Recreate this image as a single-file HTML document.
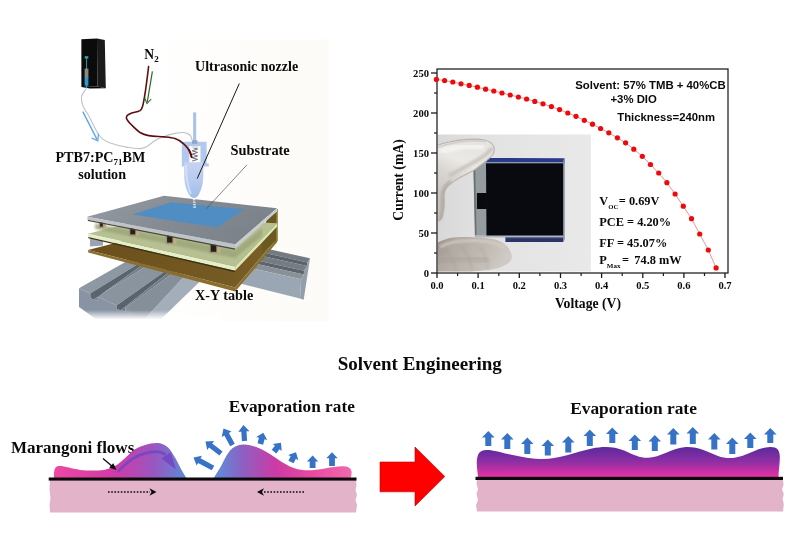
<!DOCTYPE html>
<html><head><meta charset="utf-8"><title>Solvent Engineering</title>
<style>
html,body{margin:0;padding:0;background:#fff;}
body{width:800px;height:533px;overflow:hidden;font-family:"Liberation Serif",serif;}
svg{display:block;position:absolute;left:0;top:0;}
text{font-family:"Liberation Serif",serif;font-weight:bold;fill:#0a0a0a;}
.sans{font-family:"Liberation Sans",sans-serif;font-weight:bold;}
</style></head><body>
<svg width="800" height="533" viewBox="0 0 800 533" style="will-change:transform">
<defs>
<linearGradient id="gL1" x1="0" y1="0" x2="1" y2="0">
 <stop offset="0" stop-color="#ec4aa2"/><stop offset="0.45" stop-color="#d23aa6"/><stop offset="0.75" stop-color="#9a55c0"/><stop offset="1" stop-color="#5a8cd8"/>
</linearGradient>
<linearGradient id="gL2" x1="0" y1="0" x2="1" y2="0">
 <stop offset="0" stop-color="#5a92dc"/><stop offset="0.2" stop-color="#8a62c4"/><stop offset="0.45" stop-color="#cc3aa4"/><stop offset="0.7" stop-color="#e8489f"/><stop offset="1" stop-color="#f06aae"/>
</linearGradient>
<linearGradient id="gR" x1="0" y1="0" x2="0" y2="1">
 <stop offset="0" stop-color="#5a2a9c"/><stop offset="0.45" stop-color="#8a2ea4"/><stop offset="1" stop-color="#e832a4"/>
</linearGradient>
<filter id="b05" x="-10%" y="-10%" width="120%" height="120%"><feGaussianBlur stdDeviation="0.5"/></filter>
<filter id="b1" x="-10%" y="-10%" width="120%" height="120%"><feGaussianBlur stdDeviation="1"/></filter>
<filter id="b2" x="-20%" y="-20%" width="140%" height="140%"><feGaussianBlur stdDeviation="2"/></filter>
<filter id="b4" x="-30%" y="-30%" width="160%" height="160%"><feGaussianBlur stdDeviation="4"/></filter>

<linearGradient id="fadeY" x1="0" y1="0" x2="0" y2="1">
 <stop offset="0" stop-color="#ffffff" stop-opacity="0"/><stop offset="1" stop-color="#ffffff" stop-opacity="1"/>
</linearGradient>
<linearGradient id="plateTop" x1="0" y1="0" x2="1" y2="0.4">
 <stop offset="0" stop-color="#969ca4"/><stop offset="0.5" stop-color="#868c94"/><stop offset="1" stop-color="#7c828a"/>
</linearGradient>
<linearGradient id="cream" x1="0" y1="0" x2="1" y2="0">
 <stop offset="0" stop-color="#ffffff"/><stop offset="0.35" stop-color="#ffffff"/><stop offset="0.8" stop-color="#fefcf9"/><stop offset="1" stop-color="#fdfbf7"/>
</linearGradient>
<linearGradient id="nozz" x1="0" y1="0" x2="0" y2="1">
 <stop offset="0" stop-color="#c6d4f2"/><stop offset="0.6" stop-color="#b4c8ee"/><stop offset="1" stop-color="#9fbce8"/>
</linearGradient>
<linearGradient id="brownTop" x1="0" y1="0" x2="1" y2="0">
 <stop offset="0" stop-color="#6a4f1c"/><stop offset="1" stop-color="#7a5e26"/>
</linearGradient>

<linearGradient id="phbg" x1="0" y1="0" x2="1" y2="0">
 <stop offset="0" stop-color="#d8d8d8"/><stop offset="0.3" stop-color="#e2e2e2"/><stop offset="1" stop-color="#e9e9e9"/>
</linearGradient>
<linearGradient id="glove1" x1="0.45" y1="0" x2="0.2" y2="0.8">
 <stop offset="0" stop-color="#e6e4e0"/><stop offset="0.3" stop-color="#ebe9e5"/><stop offset="0.55" stop-color="#d9d5d0"/><stop offset="1" stop-color="#c6c1bb"/>
</linearGradient>
<linearGradient id="glove2" x1="0" y1="0" x2="1" y2="0.3">
 <stop offset="0" stop-color="#9a928a"/><stop offset="0.3" stop-color="#b2aba3"/><stop offset="0.75" stop-color="#c3bdb6"/><stop offset="1" stop-color="#cfcac4"/>
</linearGradient>
<clipPath id="phclip"><rect x="437.8" y="134.6" width="153" height="136.8"/></clipPath>

</defs>
<rect width="800" height="533" fill="#ffffff"/>
<g id="spray">
<rect x="48" y="39.5" width="280.5" height="282" fill="url(#cream)"/>
<polygon points="185.5,274.9 202.5,279.0 158.0,322.0 140.0,324.0" fill="#a4aeba"/>
<polygon points="130.7,258.9 141.2,261.9 90.2,293.5 79.0,288.2" fill="#8e98a2"/>
<polygon points="149.5,264.1 167.5,269.4 116.5,305.5 97.7,296.5" fill="#8a949e"/>
<polygon points="175.0,271.6 185.5,274.9 140.0,324.0 125.5,307.7" fill="#858f99"/>
<polygon points="79.0,288.2 90.2,293.5 90.7,298.3 97.7,301.0 97.7,296.5 116.5,305.5 116.8,309.0 125.5,311.5 125.5,307.7 152.0,324.0 79.0,324.0" fill="#8894a4"/>
<polygon points="90.2,293.5 141.2,261.9 145.1,263.0 94.0,299.6 90.7,298.3" fill="#5a646e"/>
<polygon points="94.0,299.6 145.1,263.0 149.5,264.1 97.7,296.5 97.7,301.0" fill="#737d87"/>
<polygon points="116.5,305.5 167.5,269.4 171.1,270.5 120.8,310.2 116.8,309.0" fill="#59636d"/>
<polygon points="120.8,310.2 171.1,270.5 175.0,271.6 125.5,307.7 125.5,311.5" fill="#727c86"/>
<rect x="60" y="310" width="160" height="9.5" fill="url(#fadeY)"/>
<rect x="60" y="319" width="160" height="8" fill="#ffffff"/>
<polygon points="77,305.5 95,318.5 77,327" fill="#ffffff" filter="url(#b05)"/>
<polygon points="269.3,249.3 310.0,258.3 307.5,262.4 266.0,253.2" fill="#747a82"/>
<polygon points="266.0,253.2 307.5,262.4 307.0,266.0 263.3,256.3" fill="#5c626a"/>
<polygon points="263.3,256.3 307.0,266.0 304.0,270.8 259.4,260.9" fill="#767c84"/>
<polygon points="259.4,260.9 304.0,270.8 303.9,274.4 256.9,264.0" fill="#5e646c"/>
<polygon points="256.9,264.0 303.9,274.4 301.2,279.2 253.0,268.5" fill="#8a9098"/>
<polygon points="253.0,268.5 301.2,279.2 300.0,298.5 240.0,283.6" fill="#9aa6b4"/>
<polygon points="310.0,258.3 303.7,299.8 300.0,298.5 301.2,279.2 303.9,274.4 304.0,270.8 307.0,266.0 307.5,262.4" fill="#929eac"/>
<polygon points="88.0,250.0 131.0,239.0 277.2,238.4 235.2,287.4" fill="url(#brownTop)"/>
<polygon points="88.0,250.0 235.2,287.4 235.2,291.6 88.3,252.5" fill="#8a6e2e"/>
<polygon points="235.2,287.4 277.2,238.4 277.2,242.0 235.2,291.6" fill="#86722e"/>
<polygon points="269.0,214.5 277.2,211.0 277.2,239.5 262.0,252.0 262.0,232.0" fill="#6a5a20"/>
<polygon points="276.2,209.0 277.8,209.0 277.8,241.0 276.2,241.0" fill="#93843c"/>
<polygon points="90.0,238.0 103.0,241.0 103.0,245.5 90.0,246.5" fill="#9aa4b4"/>
<polygon points="88.0,233.7 150.0,218.0 277.2,223.2 235.2,266.4" fill="#b6c092"/>
<polygon points="88.0,233.7 235.2,266.4 235.0,270.8 88.3,237.1" fill="#e4eec8"/>
<polygon points="235.2,266.4 277.2,223.2 277.2,226.6 235.0,270.8" fill="#dce8b4"/>
<polygon points="88.3,237.1 235.0,270.8 235.0,272.2 88.3,238.3" fill="#3c3214"/>
<polygon points="95.0,223.5 235.0,250.0 262.0,228.0 262.0,236.0 235.0,258.0 95.0,229.0" fill="#9aa478" filter="url(#b1)" opacity="0.8"/>
<rect x="98.8" y="221.6" width="7" height="6.4" fill="#a39373"/>
<rect x="103.6" y="221.6" width="2.2" height="6.4" fill="#bdad8b"/>
<rect x="100.1" y="222.6" width="2.6" height="4.0" fill="#26221a"/>
<rect x="129" y="227.2" width="10.4" height="8.6" fill="#a39373"/>
<rect x="136.1" y="227.2" width="3.3" height="8.6" fill="#bdad8b"/>
<rect x="130.3" y="228.2" width="4.9" height="6.2" fill="#26221a"/>
<rect x="165.8" y="234.6" width="11" height="9.4" fill="#a39373"/>
<rect x="173.3" y="234.6" width="3.5" height="9.4" fill="#bdad8b"/>
<rect x="167.1" y="235.6" width="5.3" height="7.0" fill="#26221a"/>
<rect x="209.4" y="243.6" width="11.4" height="9.6" fill="#a39373"/>
<rect x="217.2" y="243.6" width="3.6" height="9.6" fill="#bdad8b"/>
<rect x="210.7" y="244.6" width="5.6" height="7.2" fill="#26221a"/>
<polygon points="87.2,216.8 164.0,195.7 277.0,208.3 235.2,244.2" fill="url(#plateTop)"/>
<polygon points="87.2,216.8 235.2,244.2 235.0,248.5 87.6,219.8" fill="#bdc3ca"/>
<polygon points="235.2,244.2 277.0,208.3 277.0,211.5 235.0,248.5" fill="#c9cdd2"/>
<polygon points="87.6,219.8 235.0,248.5 235.0,249.8 88.0,221.0" fill="#4a4638"/>
<polygon points="132.5,214.6 171.0,202.2 244.3,209.3 217.3,227.4" fill="#4f8dc3"/>
<polygon points="81.4,39.2 97.0,38.6 97.4,86.6 81.4,86.9" fill="#0b0b0b"/>
<polygon points="97.0,38.6 104.8,40.0 105.8,88.2 97.4,86.6" fill="#1b1b1b"/>
<polygon points="81.4,86.9 97.4,86.6 105.8,88.2 90.0,88.6" fill="#050505"/>
<rect x="84.7" y="56.2" width="3.6" height="2.4" fill="#2ea8b8"/>
<rect x="86" y="58.5" width="1.1" height="10.5" fill="#3a8a98"/>
<rect x="84.6" y="68.6" width="3.8" height="9" fill="#8a8a80"/>
<rect x="84.6" y="77" width="3.8" height="8.6" fill="#2f9ad0"/>
<path d="M86.5,85 L86.5,88" stroke="#2f9ad0" stroke-width="1.4"/>
<rect x="193.1" y="112.4" width="3.1" height="30" fill="#a9c3ea"/>
<path d="M181.8,141.7 L206.6,141.7 L206.6,163.2 L208.8,163.4 L208.8,166.6 L200.5,166.6 L200.5,146 L189.3,146 L189.3,166.4 L181.8,166.4 Z" fill="#b3c8ee"/>
<rect x="192" y="140.2" width="5.4" height="3.6" fill="#8fa6d0"/>
<path d="M192.2,147.5 L197.6,149 L192.2,150.8 L197.6,152.4 L192.2,154.2 L197.6,156 L192.2,157.8 L197.6,159.4 L192.2,161" stroke="#5a5a66" stroke-width="0.9" fill="none"/>
<rect x="191.6" y="146" width="6.6" height="2" fill="#e0e0ea"/>
<path d="M86.6,88 C84.5,91 81.6,94 81.4,97.5 C81.2,100.5 82,103.5 83.1,106.2 C84.8,110 87.2,113.2 89.2,116.7 C91.2,120.2 92.8,123.8 94.5,127.2 C96,130.2 97.6,133.4 99.7,136 C102.4,139.2 106,141.6 110.2,143 C115.6,144.9 122,146.4 127.7,147.4 C131.8,148.1 136,148.9 140,148.6 C142.6,148.4 145,147.7 147,146.5 C149.6,145 151.6,142.8 154,141.2 C156.6,139.4 159.6,138 162.7,136.9 C166.6,135.4 170.8,134.2 175,133.4 C177.8,132.8 181,132.2 183.7,132.5 C186.6,132.9 189.2,134 190.7,136 L192.5,141" stroke="#bcc4cd" stroke-width="1.1" fill="none"/>
<path d="M82.8,111.6 L97,139.4" stroke="#5aa2e6" stroke-width="1.3" fill="none"/>
<path d="M91.6,138 L97.8,140.8 L98.4,133.6" stroke="#5aa2e6" stroke-width="1.2" fill="none"/>
<path d="M148.6,66.5 C147.6,75 146,88 144.4,97.5 C143.8,100.6 143.4,103.6 142.6,106.2 C142,108.2 141.4,109.8 140,110.6 C137.4,112 134,112.2 131.2,113.2 C129.4,113.9 127.6,114.6 126.9,115.9 C126.2,117.2 126.2,118.4 126.9,119.4 C128.4,122 130.8,124.3 133,126.4 C135.2,128.6 137.4,130.8 140,132.5 C142.6,134.1 145.6,135.1 148.7,135.6 C153.8,136.4 159.4,136.4 164.5,136.9 C168,137.2 171.8,137.4 175,138.6 C178.4,139.8 181.4,141.6 183.7,143.9 C185.8,145.8 187.6,147.8 189,150 C190.3,152.2 191,154.6 191.6,157" stroke="#5e0e12" stroke-width="1.6" fill="none" stroke-linecap="round"/>
<path d="M152.4,71.3 L147.3,101.8" stroke="#2c6a24" stroke-width="1.2" fill="none"/>
<path d="M144.6,97.8 L147,103.6 L151.2,99" stroke="#2c6a24" stroke-width="1.1" fill="none"/>
<path d="M189,150 C190.3,152.2 191,154.6 191.6,157" stroke="#5e0e12" stroke-width="1.8" fill="none" stroke-linecap="round"/>
<path d="M184,162.2 L203.6,162.2 L203.3,177 C203,185.5 200.6,192 197.8,196 C196.2,198.6 191.8,198.6 190.2,196 C187.2,192 184.6,185.5 184.3,177 Z" fill="url(#nozz)"/>
<path d="M186,165 C186,176 187.2,186 191,194" stroke="#dfe8fa" stroke-width="2" fill="none" opacity="0.7" filter="url(#b05)"/>
<path d="M194,199 L194.8,208.5" stroke="#dfe9f5" stroke-width="2.6" stroke-dasharray="1.4 1.1" fill="none" opacity="0.9"/>
<path d="M239.3,83.5 L197.2,178.6" stroke="#1a1a1a" stroke-width="1" fill="none"/>
<path d="M247,164.8 L206,209.2" stroke="#555" stroke-width="0.7" fill="none"/>
<text x="144.3" y="59" font-size="13.6">N<tspan font-size="9" dy="3.2">2</tspan></text>
<text x="195.1" y="71" font-size="14">Ultrasonic nozzle</text>
<text x="230.6" y="155.3" font-size="14.4">Substrate</text>
<text x="55.4" y="162" font-size="14.15">PTB7:PC<tspan font-size="9" dy="3.2">71</tspan><tspan dy="-3.2">BM</tspan></text>
<text x="78.2" y="178.8" font-size="14.1">solution</text>
<text x="195" y="300.2" font-size="14.2">X-Y table</text>
</g>
<g id="chart">
<g clip-path="url(#phclip)">
<rect x="437" y="134" width="155" height="138" fill="url(#phbg)"/>
<path d="M436,243.2 C441,241 446,239 451.2,237.8 C458,236.6 465,236.8 472.5,237.2 C480,237.6 487,238 493.7,239.3 C499,240.5 503.5,242.6 506.5,245.7 C509.5,248.6 511.6,252.5 511.8,256.3 C512,259.2 510.3,261.8 507.6,263.7 C503.5,266.3 499,268 493.7,269 C487,270.2 480,271 472.5,271.4 L472,274 L436,274 Z" fill="url(#glove2)" filter="url(#b05)"/>
<path d="M440,247 C450,241.5 462,240 476,240.5 C488,241 498,243 505,248" stroke="#d2cdc7" stroke-width="3" fill="none" opacity="0.8" filter="url(#b1)"/>
<path d="M446,250 C452,256 455,263 456,271 M462,246 C468,254 471,262 472,271 M480,247 C485,254 488,262 488,270" stroke="#9d958d" stroke-width="1.6" fill="none" opacity="0.3" filter="url(#b1)"/>
<path d="M439,262 C452,258 470,257 488,260" stroke="#a8a098" stroke-width="6" fill="none" opacity="0.5" filter="url(#b2)"/>
<polygon points="487,158 564.5,158.3 564.5,163 486,163" fill="#2b3a88"/>
<polygon points="486,162 564.5,162 564.5,163.4 486,163.4" fill="#8f99ad"/>
<polygon points="473.6,168 486,161.5 486.6,236.3 475.2,236.3" fill="#959c9f"/>
<polygon points="473.4,168.5 475.2,167.5 476.6,236.3 474.9,236.3" fill="#687074"/>
<polygon points="475.2,235 564,235 564,237.6 475.2,237.6" fill="#aeb6be"/>
<polygon points="505.4,237.6 563.4,237.6 563.4,241.9 505.4,241.9" fill="#2a3468"/>
<polygon points="505.4,237.2 563.4,237.2 563.4,238.2 505.4,238.2" fill="#5a6690"/>
<polygon points="486,163.2 563.6,163.2 563.6,235.4 486.4,235.4" fill="#090910"/>
<rect x="476.9" y="193" width="10" height="16" fill="#090910"/>
<rect x="563.2" y="159.5" width="1.5" height="81" fill="#8690a2"/>
<path d="M436,145.8 C442,143.5 446,142.5 448.8,142 C455,140.6 461,139.8 467.5,139.4 C474,139 480,139 484.4,140 C489.5,141.2 493,143.5 493.9,147 C494.6,150 494.2,152.5 492.8,154.5 C491,157 488.8,158.8 486.3,160.8 L474,170.2 C468,173.5 463,176 458,178.7 C453.5,181.2 450,183.8 447.8,186.2 C445.5,188.5 444.2,191 444,193.7 C443.7,198 444.6,202.5 444,206.8 C443.5,211 443,215 441.3,218 C440.4,219.8 439.2,221 436,222.5 Z" fill="url(#glove1)" stroke="#b9b3ad" stroke-width="1.1" filter="url(#b05)"/>
<path d="M449,176 C457,171 467,166 476,161 C483,157 489,152.5 492,148" stroke="#c4beb8" stroke-width="4" fill="none" opacity="0.8" filter="url(#b1)"/>
<path d="M440,220 C443,212 442.5,203 442.3,194 C443,188 446,184 451,181" stroke="#a9a29b" stroke-width="2.6" fill="none" opacity="0.8" filter="url(#b1)"/>
<path d="M441,152 C452,147.5 468,145 484,146.5" stroke="#f4f3f0" stroke-width="6" fill="none" opacity="0.9" filter="url(#b1)"/>
<path d="M438,147.5 C450,142.5 470,139.5 486,141.5" stroke="#cfcac5" stroke-width="1.6" fill="none" opacity="0.8" filter="url(#b05)"/>
</g>
<rect x="437" y="69" width="291" height="204" fill="none" stroke="#1c1c1c" stroke-width="1.25"/>
<path d="M431,273.0 L437,273.0" stroke="#1a1a1a" stroke-width="1.3"/>
<path d="M434,253.0 L437,253.0" stroke="#1a1a1a" stroke-width="1.2"/>
<path d="M431,233.0 L437,233.0" stroke="#1a1a1a" stroke-width="1.3"/>
<path d="M434,213.0 L437,213.0" stroke="#1a1a1a" stroke-width="1.2"/>
<path d="M431,193.0 L437,193.0" stroke="#1a1a1a" stroke-width="1.3"/>
<path d="M434,173.0 L437,173.0" stroke="#1a1a1a" stroke-width="1.2"/>
<path d="M431,153.0 L437,153.0" stroke="#1a1a1a" stroke-width="1.3"/>
<path d="M434,133.0 L437,133.0" stroke="#1a1a1a" stroke-width="1.2"/>
<path d="M431,113.0 L437,113.0" stroke="#1a1a1a" stroke-width="1.3"/>
<path d="M434,93.0 L437,93.0" stroke="#1a1a1a" stroke-width="1.2"/>
<path d="M431,73.0 L437,73.0" stroke="#1a1a1a" stroke-width="1.3"/>
<path d="M437.0,273 L437.0,278" stroke="#1a1a1a" stroke-width="1.3"/>
<path d="M457.6,273 L457.6,276" stroke="#1a1a1a" stroke-width="1.2"/>
<path d="M478.1,273 L478.1,278" stroke="#1a1a1a" stroke-width="1.3"/>
<path d="M498.8,273 L498.8,276" stroke="#1a1a1a" stroke-width="1.2"/>
<path d="M519.3,273 L519.3,278" stroke="#1a1a1a" stroke-width="1.3"/>
<path d="M539.9,273 L539.9,276" stroke="#1a1a1a" stroke-width="1.2"/>
<path d="M560.5,273 L560.5,278" stroke="#1a1a1a" stroke-width="1.3"/>
<path d="M581.1,273 L581.1,276" stroke="#1a1a1a" stroke-width="1.2"/>
<path d="M601.6,273 L601.6,278" stroke="#1a1a1a" stroke-width="1.3"/>
<path d="M622.2,273 L622.2,276" stroke="#1a1a1a" stroke-width="1.2"/>
<path d="M642.8,273 L642.8,278" stroke="#1a1a1a" stroke-width="1.3"/>
<path d="M663.4,273 L663.4,276" stroke="#1a1a1a" stroke-width="1.2"/>
<path d="M683.9,273 L683.9,278" stroke="#1a1a1a" stroke-width="1.3"/>
<path d="M704.5,273 L704.5,276" stroke="#1a1a1a" stroke-width="1.2"/>
<path d="M725.0,273 L725.0,278" stroke="#1a1a1a" stroke-width="1.3"/>
<text x="429" y="276.6" font-size="10.6" text-anchor="end">0</text>
<text x="429" y="236.6" font-size="10.6" text-anchor="end">50</text>
<text x="429" y="196.6" font-size="10.6" text-anchor="end">100</text>
<text x="429" y="156.6" font-size="10.6" text-anchor="end">150</text>
<text x="429" y="116.6" font-size="10.6" text-anchor="end">200</text>
<text x="429" y="76.6" font-size="10.6" text-anchor="end">250</text>
<text x="437.0" y="289" font-size="10.6" text-anchor="middle">0.0</text>
<text x="478.1" y="289" font-size="10.6" text-anchor="middle">0.1</text>
<text x="519.3" y="289" font-size="10.6" text-anchor="middle">0.2</text>
<text x="560.5" y="289" font-size="10.6" text-anchor="middle">0.3</text>
<text x="601.6" y="289" font-size="10.6" text-anchor="middle">0.4</text>
<text x="642.8" y="289" font-size="10.6" text-anchor="middle">0.5</text>
<text x="683.9" y="289" font-size="10.6" text-anchor="middle">0.6</text>
<text x="725.0" y="289" font-size="10.6" text-anchor="middle">0.7</text>
<text x="588" y="308" font-size="13.7" text-anchor="middle">Voltage (V)</text>
<text transform="translate(403.3,180) rotate(-90)" font-size="13.7" text-anchor="middle">Current (mA)</text>
<path d="M436.4,79.4 L444.6,80.6 L452.8,82.0 L461.0,83.8 L469.2,85.4 L477.4,87.2 L485.6,89.2 L493.8,91.0 L502.0,93.0 L510.2,95.0 L518.4,97.0 L526.6,99.0 L534.8,101.4 L543.0,103.8 L551.4,106.6 L559.6,109.6 L567.8,113.0 L576.0,116.3 L584.3,120.3 L592.5,124.2 L600.6,128.5 L608.8,132.8 L617.4,137.8 L625.6,142.8 L633.8,149.2 L642.3,156.3 L650.5,164.5 L658.7,173.0 L666.9,182.7 L675.1,194.0 L683.3,206.2 L691.5,218.7 L699.7,234.0 L708.3,250.0 L716.1,267.9" stroke="#e84a4a" stroke-width="0.6" fill="none"/>
<circle cx="436.4" cy="79.4" r="2.6" fill="#ee0a0a"/>
<circle cx="444.6" cy="80.6" r="2.6" fill="#ee0a0a"/>
<circle cx="452.8" cy="82.0" r="2.6" fill="#ee0a0a"/>
<circle cx="461.0" cy="83.8" r="2.6" fill="#ee0a0a"/>
<circle cx="469.2" cy="85.4" r="2.6" fill="#ee0a0a"/>
<circle cx="477.4" cy="87.2" r="2.6" fill="#ee0a0a"/>
<circle cx="485.6" cy="89.2" r="2.6" fill="#ee0a0a"/>
<circle cx="493.8" cy="91.0" r="2.6" fill="#ee0a0a"/>
<circle cx="502.0" cy="93.0" r="2.6" fill="#ee0a0a"/>
<circle cx="510.2" cy="95.0" r="2.6" fill="#ee0a0a"/>
<circle cx="518.4" cy="97.0" r="2.6" fill="#ee0a0a"/>
<circle cx="526.6" cy="99.0" r="2.6" fill="#ee0a0a"/>
<circle cx="534.8" cy="101.4" r="2.6" fill="#ee0a0a"/>
<circle cx="543.0" cy="103.8" r="2.6" fill="#ee0a0a"/>
<circle cx="551.4" cy="106.6" r="2.6" fill="#ee0a0a"/>
<circle cx="559.6" cy="109.6" r="2.6" fill="#ee0a0a"/>
<circle cx="567.8" cy="113.0" r="2.6" fill="#ee0a0a"/>
<circle cx="576.0" cy="116.3" r="2.6" fill="#ee0a0a"/>
<circle cx="584.3" cy="120.3" r="2.6" fill="#ee0a0a"/>
<circle cx="592.5" cy="124.2" r="2.6" fill="#ee0a0a"/>
<circle cx="600.6" cy="128.5" r="2.6" fill="#ee0a0a"/>
<circle cx="608.8" cy="132.8" r="2.6" fill="#ee0a0a"/>
<circle cx="617.4" cy="137.8" r="2.6" fill="#ee0a0a"/>
<circle cx="625.6" cy="142.8" r="2.6" fill="#ee0a0a"/>
<circle cx="633.8" cy="149.2" r="2.6" fill="#ee0a0a"/>
<circle cx="642.3" cy="156.3" r="2.6" fill="#ee0a0a"/>
<circle cx="650.5" cy="164.5" r="2.6" fill="#ee0a0a"/>
<circle cx="658.7" cy="173.0" r="2.6" fill="#ee0a0a"/>
<circle cx="666.9" cy="182.7" r="2.6" fill="#ee0a0a"/>
<circle cx="675.1" cy="194.0" r="2.6" fill="#ee0a0a"/>
<circle cx="683.3" cy="206.2" r="2.6" fill="#ee0a0a"/>
<circle cx="691.5" cy="218.7" r="2.6" fill="#ee0a0a"/>
<circle cx="699.7" cy="234.0" r="2.6" fill="#ee0a0a"/>
<circle cx="708.3" cy="250.0" r="2.6" fill="#ee0a0a"/>
<circle cx="716.1" cy="267.9" r="2.6" fill="#ee0a0a"/>
<text class="sans" x="575.3" y="88.9" font-size="11.35">Solvent: 57% TMB + 40%CB</text>
<text class="sans" x="610.5" y="103.2" font-size="11.35">+3% DIO</text>
<text class="sans" x="617.3" y="121.2" font-size="11.3">Thickness=240nm</text>
<text x="599.3" y="205.1" font-size="12.35">V<tspan font-size="6.7" dy="4">OC</tspan><tspan x="618.8" dy="-4">= 0.69V</tspan></text>
<text x="599.3" y="225.9" font-size="12.35">PCE = 4.20%</text>
<text x="599.3" y="246.7" font-size="12.35">FF = 45.07%</text>
<text x="599.3" y="264.4" font-size="12.35">P<tspan font-size="7" dy="4">Max</tspan><tspan x="622" dy="-4">=</tspan><tspan x="634.3">74.8 mW</tspan></text>
</g>
<g id="bottom">
<text x="419.8" y="369.5" font-size="19" text-anchor="middle">Solvent Engineering</text>
<text x="291.8" y="411.5" font-size="17.25" text-anchor="middle">Evaporation rate</text>
<text x="633.5" y="414.3" font-size="17.35" text-anchor="middle">Evaporation rate</text>
<text x="11" y="453" font-size="17">Marangoni flows</text>
<path d="M50,479 L356,479 L356.5,486 L355.5,490 L357,495 L355.5,500 L357,505 L356,512.5 L50,512.5 L49.5,505 L50.5,498 L49.5,490 Z" fill="#e2b3c9"/>
<path d="M54,478.5 C53.5,472 54.5,467.2 57.5,466.3 C63,465.3 71,468.8 80,469.9 C88,470.6 96,471 103.8,469.9 C109,469 113.5,466.8 117.5,464.4 C122.5,461 127,456 131.3,452 C135.5,448.6 140,446.4 145,445.1 C149,443.8 153.5,442.8 157.4,443 C161,443.2 164,444.4 166.5,446.2 C169,448 171,450.6 172.5,453.4 C175,457.4 177.5,461.6 179.4,465.8 C181.5,470 183.8,474 186.8,478.5 Z" fill="url(#gL1)"/>
<path d="M213.5,478.5 C216,474 218,471 220,468 C223,462.5 226,455.5 230,450.5 C233.5,446.5 238,444.6 243,444.4 C249,444.2 255,446.2 261,449 C268,452.4 274,457 281,461.4 C288,465.8 295,469.4 304,470.2 C311,470.8 318,469.6 325,468.4 C332,467.2 339,466 344,466.3 C349,466.6 351.6,469 351.6,472.5 C351.6,475 351,477 350.4,478.5 Z" fill="url(#gL2)"/>
<rect x="48.7" y="477.5" width="307.8" height="3.1" fill="#0a0a0a"/>
<path d="M118.4,471.2 C122,467 126.5,463 131.3,459.6 C135.5,456.8 140,454.8 145,453.4 C148.6,452.4 152.4,451.8 156,451.7 C159,451.7 162,452.6 164.6,454" stroke="#7444c2" stroke-width="2.7" fill="none" opacity="0.88" stroke-linecap="round"/><polygon points="161.3,458.4 170.6,452.5 176,469.4" fill="#7444c2" opacity="0.88"/>
<path d="M103,458.5 L113,467" stroke="#0a0a0a" stroke-width="1.3" fill="none"/>
<polygon points="116.5,470 109.2,467.6 113.3,463.2" fill="#0a0a0a"/>
<path d="M108,492 L150,492" stroke="#0a0a0a" stroke-width="1.4" stroke-dasharray="1.6 1.6" fill="none"/>
<path d="M149.5,488.3 L156.5,492 L149.5,495.7 L151.5,492 Z" fill="#0a0a0a"/>
<path d="M264,492 L305.5,492" stroke="#0a0a0a" stroke-width="1.4" stroke-dasharray="1.6 1.6" fill="none"/>
<path d="M264,488.3 L257,492 L264,495.7 L262,492 Z" fill="#0a0a0a"/>
<polygon points="213.0,445.9 218.6,452.4 215.6,452.4 215.6,468.0 210.4,468.0 210.4,452.4 207.4,452.4" fill="#3673c6" transform="rotate(-61.7 213.0 468.0)"/>
<polygon points="221.0,433.9 226.6,440.4 223.6,440.4 223.6,453.5 218.4,453.5 218.4,440.4 215.4,440.4" fill="#3673c6" transform="rotate(-52.3 221.0 453.5)"/>
<polygon points="232.5,426.2 238.1,432.7 235.1,432.7 235.1,445.0 229.9,445.0 229.9,432.7 226.9,432.7" fill="#3673c6" transform="rotate(-28.6 232.5 445.0)"/>
<polygon points="244.5,425.0 250.1,431.5 247.1,431.5 247.1,441.0 241.9,441.0 241.9,431.5 238.9,431.5" fill="#3673c6" transform="rotate(-3.6 244.5 441.0)"/>
<polygon points="260.3,432.4 266.0,438.4 263.2,438.4 263.2,444.0 257.4,444.0 257.4,438.4 254.6,438.4" fill="#3673c6" transform="rotate(15.0 260.3 444.0)"/>
<polygon points="274.0,440.4 279.7,446.4 276.9,446.4 276.9,451.6 271.1,451.6 271.1,446.4 268.3,446.4" fill="#3673c6" transform="rotate(38.5 274.0 451.6)"/>
<polygon points="291.0,451.0 296.7,457.0 293.9,457.0 293.9,462.0 288.1,462.0 288.1,457.0 285.3,457.0" fill="#3673c6" transform="rotate(27.0 291.0 462.0)"/>
<polygon points="312.6,455.6 318.3,461.6 315.5,461.6 315.5,468.0 309.7,468.0 309.7,461.6 306.9,461.6" fill="#3673c6" transform="rotate(0.0 312.6 468.0)"/>
<polygon points="332.0,452.2 337.7,458.2 334.9,458.2 334.9,466.0 329.1,466.0 329.1,458.2 326.3,458.2" fill="#3673c6" transform="rotate(0.0 332.0 466.0)"/>
<polygon points="380,462 415,462 415,447 444.8,476.5 415,506 415,491.8 380,491.8" fill="#fe0000" stroke="#c00000" stroke-width="0.6"/>
<path d="M477,479 L783,479 L783.5,485 L782,489 L783.8,494 L782.5,499 L783.8,504 L783,511.5 L477,511.5 L476,505 L478,500 L476.5,494 L478,489 L476.5,484 Z" fill="#e2b3c9"/>
<path d="M478,477.5 C477.5,470 475.5,462 478,455 C480,450 486,449.5 492,450.5 C506,453 520,458 540,459 C560,459.5 575,452 592,448.5 C604,446 614,446.5 624,450.5 C634,455 640,458 648,457.8 C660,457.5 672,448 686,447 C698,446.5 708,452 718,456 C726,459 734,458.5 742,456 C752,452.5 760,447.5 770,447 C777,446.8 779.5,450 779.8,456 C780,464 778.5,470 778.5,477.5 Z" fill="url(#gR)"/>
<rect x="475.5" y="476.8" width="307.5" height="3.2" fill="#0a0a0a"/>
<polygon points="488.3,431.0 494.6,437.5 491.3,437.5 491.3,446.0 485.3,446.0 485.3,437.5 482.0,437.5" fill="#3673c6"/>
<polygon points="507.3,433.0 513.6,439.5 510.3,439.5 510.3,449.0 504.3,449.0 504.3,439.5 501.0,439.5" fill="#3673c6"/>
<polygon points="527.3,437.5 533.6,444.0 530.3,444.0 530.3,454.0 524.3,454.0 524.3,444.0 521.0,444.0" fill="#3673c6"/>
<polygon points="547.8,439.5 554.1,446.0 550.8,446.0 550.8,455.5 544.8,455.5 544.8,446.0 541.5,446.0" fill="#3673c6"/>
<polygon points="568.3,436.0 574.6,442.5 571.3,442.5 571.3,452.5 565.3,452.5 565.3,442.5 562.0,442.5" fill="#3673c6"/>
<polygon points="589.8,429.5 596.1,436.0 592.8,436.0 592.8,446.0 586.8,446.0 586.8,436.0 583.5,436.0" fill="#3673c6"/>
<polygon points="612.3,427.5 618.6,434.0 615.3,434.0 615.3,443.0 609.3,443.0 609.3,434.0 606.0,434.0" fill="#3673c6"/>
<polygon points="634.8,434.5 641.1,441.0 637.8,441.0 637.8,450.0 631.8,450.0 631.8,441.0 628.5,441.0" fill="#3673c6"/>
<polygon points="654.8,435.0 661.1,441.5 657.8,441.5 657.8,451.0 651.8,451.0 651.8,441.5 648.5,441.5" fill="#3673c6"/>
<polygon points="673.3,428.0 679.6,434.5 676.3,434.5 676.3,444.5 670.3,444.5 670.3,434.5 667.0,434.5" fill="#3673c6"/>
<polygon points="692.8,427.0 699.1,433.5 695.8,433.5 695.8,444.0 689.8,444.0 689.8,433.5 686.5,433.5" fill="#3673c6"/>
<polygon points="714.3,433.0 720.6,439.5 717.3,439.5 717.3,449.5 711.3,449.5 711.3,439.5 708.0,439.5" fill="#3673c6"/>
<polygon points="732.3,437.5 738.6,444.0 735.3,444.0 735.3,454.0 729.3,454.0 729.3,444.0 726.0,444.0" fill="#3673c6"/>
<polygon points="750.3,432.5 756.6,439.0 753.3,439.0 753.3,448.0 747.3,448.0 747.3,439.0 744.0,439.0" fill="#3673c6"/>
<polygon points="770.3,428.0 776.6,434.5 773.3,434.5 773.3,443.0 767.3,443.0 767.3,434.5 764.0,434.5" fill="#3673c6"/>
</g>
</svg></body></html>
